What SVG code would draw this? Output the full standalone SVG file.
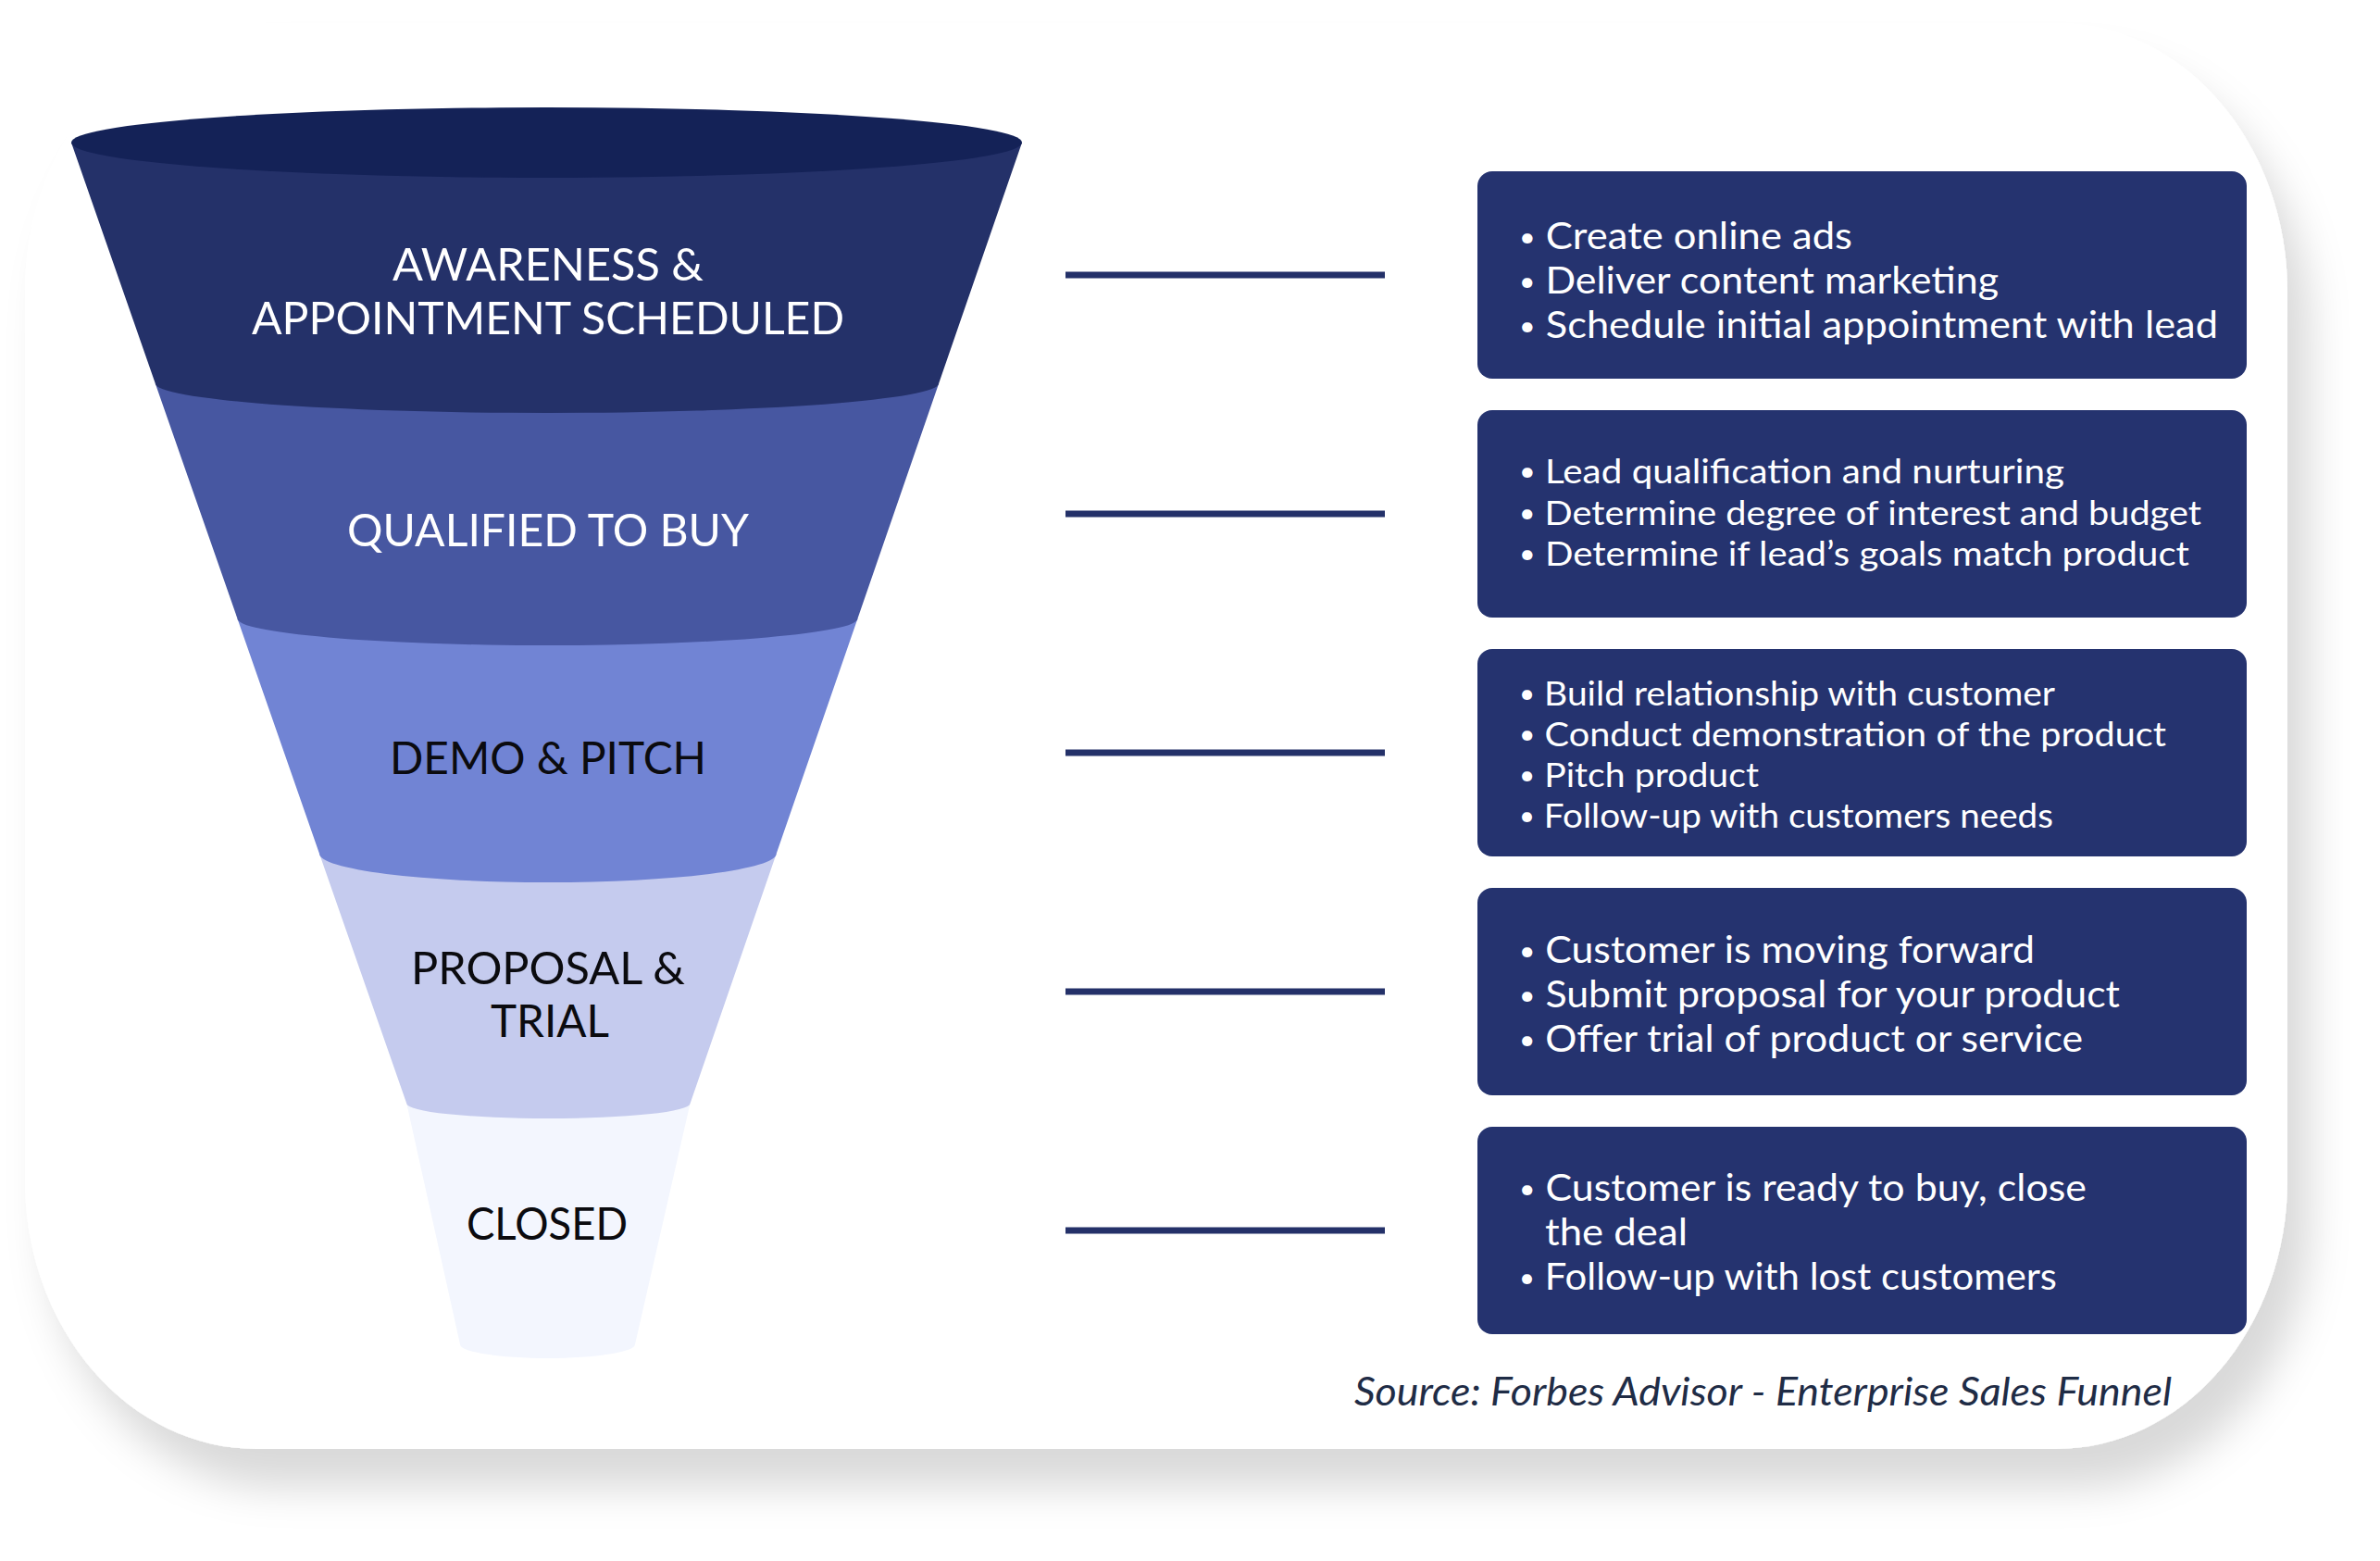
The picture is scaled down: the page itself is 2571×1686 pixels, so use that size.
<svg xmlns="http://www.w3.org/2000/svg" width="2571" height="1686" viewBox="0 0 2571 1686">
<defs>
<filter id="shadow" x="-10%" y="-10%" width="125%" height="125%">
<feDropShadow dx="24" dy="42" stdDeviation="22" flood-color="#000" flood-opacity="0.15"/>
</filter>
</defs>
<style>
.lbl{font-family:Lato,"Open Sans","Liberation Sans",sans-serif;font-size:48px;text-anchor:middle}
.w{fill:#ffffff}
.k{fill:#0b0b0f}
.box{fill:#25336f}
.bt{font-family:Lato,"Open Sans","Liberation Sans",sans-serif;fill:#ffffff}
.big{font-size:40px}
.sm{font-size:37px}
.b{font-size:28px}
.conn{stroke:#243169;stroke-width:7;fill:none}
.src{font-family:Lato,"Liberation Sans",sans-serif;font-style:italic;font-size:42px;fill:#1f2c46}
</style>
<rect width="2571" height="1686" fill="#ffffff"/>
<g id="card">
<rect x="27" y="25" width="2444" height="1540" rx="250" ry="290" fill="#ffffff" filter="url(#shadow)"/>
</g>
<g id="funnel">
<g id="stage-closed">
<path d="M439.3,1192 L497,1452 A94.5 15 0 0 0 686,1452 L745.5,1192 Z" fill="#f3f6fe"/>
<text class="lbl k" x="591" y="1339" textLength="174" lengthAdjust="spacingAndGlyphs">CLOSED</text>
</g>
<g id="stage-proposal">
<path d="M345,922 L439.3,1192 A153.1 16 0 0 0 745.5,1192 L838.7,922 Z" fill="#c5cbee"/>
<text class="lbl k" x="592" y="1063" textLength="296" lengthAdjust="spacingAndGlyphs">PROPOSAL &amp;</text>
<text class="lbl k" x="594" y="1120" textLength="128" lengthAdjust="spacingAndGlyphs">TRIAL</text>
</g>
<g id="stage-demo">
<path d="M256.4,668 L345,922 A246.85 31 0 0 0 838.7,922 L926.5,668 Z" fill="#7184d4"/>
<text class="lbl k" x="592" y="836" textLength="342" lengthAdjust="spacingAndGlyphs">DEMO &amp; PITCH</text>
</g>
<g id="stage-qualified">
<path d="M167.7,414 L256.4,668 A335.05 29 0 0 0 926.5,668 L1014.2,414 Z" fill="#4757a1"/>
<text class="lbl w" x="592" y="590" textLength="434" lengthAdjust="spacingAndGlyphs">QUALIFIED TO BUY</text>
</g>
<g id="stage-awareness">
<path d="M77,154 L167.7,414 A423.25 32 0 0 0 1014.2,414 L1104,154 Z" fill="#243169"/>
<ellipse cx="590.5" cy="154" rx="513.5" ry="38" fill="#142257"/>
<text class="lbl w" x="592" y="303" textLength="336" lengthAdjust="spacingAndGlyphs">AWARENESS &amp;</text>
<text class="lbl w" x="592" y="361" textLength="640" lengthAdjust="spacingAndGlyphs">APPOINTMENT SCHEDULED</text>
</g>
</g>
<g id="connectors">
<line class="conn" x1="1151" y1="297" x2="1496" y2="297"/>
<line class="conn" x1="1151" y1="555" x2="1496" y2="555"/>
<line class="conn" x1="1151" y1="813" x2="1496" y2="813"/>
<line class="conn" x1="1151" y1="1071" x2="1496" y2="1071"/>
<line class="conn" x1="1151" y1="1329" x2="1496" y2="1329"/>
</g>
<g id="box-awareness">
<rect class="box" x="1596" y="185" width="831" height="224" rx="16"/>
<text class="bt big" x="1641" y="269" textLength="360" lengthAdjust="spacingAndGlyphs"><tspan class="b" dy="-3">•</tspan><tspan dy="3"> Create online ads</tspan></text>
<text class="bt big" x="1641" y="317" textLength="518" lengthAdjust="spacingAndGlyphs"><tspan class="b" dy="-3">•</tspan><tspan dy="3"> Deliver content marketing</tspan></text>
<text class="bt big" x="1641" y="365" textLength="755" lengthAdjust="spacingAndGlyphs"><tspan class="b" dy="-3">•</tspan><tspan dy="3"> Schedule initial appointment with lead</tspan></text>
</g>
<g id="box-qualified">
<rect class="box" x="1596" y="443" width="831" height="224" rx="16"/>
<text class="bt sm" x="1641" y="522" textLength="589" lengthAdjust="spacingAndGlyphs"><tspan class="b" dy="-3">•</tspan><tspan dy="3"> Lead qualification and nurturing</tspan></text>
<text class="bt sm" x="1641" y="567" textLength="737" lengthAdjust="spacingAndGlyphs"><tspan class="b" dy="-3">•</tspan><tspan dy="3"> Determine degree of interest and budget</tspan></text>
<text class="bt sm" x="1641" y="611" textLength="724" lengthAdjust="spacingAndGlyphs"><tspan class="b" dy="-3">•</tspan><tspan dy="3"> Determine if lead’s goals match product</tspan></text>
</g>
<g id="box-demo">
<rect class="box" x="1596" y="701" width="831" height="224" rx="16"/>
<text class="bt sm" x="1641" y="762" textLength="579" lengthAdjust="spacingAndGlyphs"><tspan class="b" dy="-3">•</tspan><tspan dy="3"> Build relationship with customer</tspan></text>
<text class="bt sm" x="1641" y="806" textLength="699" lengthAdjust="spacingAndGlyphs"><tspan class="b" dy="-3">•</tspan><tspan dy="3"> Conduct demonstration of the product</tspan></text>
<text class="bt sm" x="1641" y="850" textLength="259" lengthAdjust="spacingAndGlyphs"><tspan class="b" dy="-3">•</tspan><tspan dy="3"> Pitch product</tspan></text>
<text class="bt sm" x="1641" y="894" textLength="577" lengthAdjust="spacingAndGlyphs"><tspan class="b" dy="-3">•</tspan><tspan dy="3"> Follow-up with customers needs</tspan></text>
</g>
<g id="box-proposal">
<rect class="box" x="1596" y="959" width="831" height="224" rx="16"/>
<text class="bt big" x="1641" y="1040" textLength="557" lengthAdjust="spacingAndGlyphs"><tspan class="b" dy="-3">•</tspan><tspan dy="3"> Customer is moving forward</tspan></text>
<text class="bt big" x="1641" y="1088" textLength="649" lengthAdjust="spacingAndGlyphs"><tspan class="b" dy="-3">•</tspan><tspan dy="3"> Submit proposal for your product</tspan></text>
<text class="bt big" x="1641" y="1136" textLength="609" lengthAdjust="spacingAndGlyphs"><tspan class="b" dy="-3">•</tspan><tspan dy="3"> Offer trial of product or service</tspan></text>
</g>
<g id="box-closed">
<rect class="box" x="1596" y="1217" width="831" height="224" rx="16"/>
<text class="bt big" x="1641" y="1297" textLength="613" lengthAdjust="spacingAndGlyphs"><tspan class="b" dy="-3">•</tspan><tspan dy="3"> Customer is ready to buy, close</tspan></text>
<text class="bt big" x="1669" y="1345" textLength="154" lengthAdjust="spacingAndGlyphs">the deal</text>
<text class="bt big" x="1641" y="1393" textLength="581" lengthAdjust="spacingAndGlyphs"><tspan class="b" dy="-3">•</tspan><tspan dy="3"> Follow-up with lost customers</tspan></text>
</g>
<text class="src" x="1463" y="1518" textLength="883" lengthAdjust="spacingAndGlyphs">Source: Forbes Advisor - Enterprise Sales Funnel</text>
</svg>
